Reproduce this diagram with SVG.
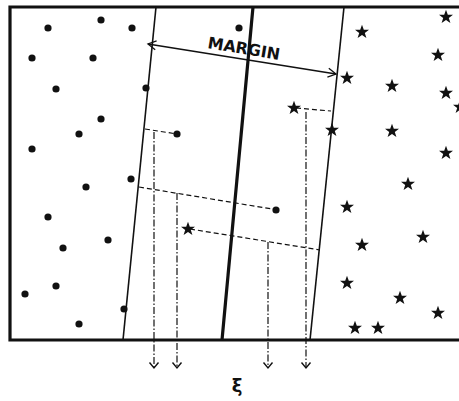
<svg xmlns="http://www.w3.org/2000/svg" xmlns:xlink="http://www.w3.org/1999/xlink" width="459" height="401" viewBox="0 0 459 401">
<defs>
<style>
.frame{fill:none;stroke:#111;stroke-width:3.2}
.margin{stroke:#111;stroke-width:1.6;fill:none}
.hyper{stroke:#111;stroke-width:3.2;fill:none}
.dash{stroke:#111;stroke-width:1.2;stroke-dasharray:5,3;fill:none}
.dashdot{stroke:#111;stroke-width:1.2;stroke-dasharray:7,2,1.5,2;fill:none}
.dot{fill:#111}
.star{fill:#111}
text{font-family:"DejaVu Sans","Liberation Sans",sans-serif;fill:#111}
</style>
<marker id="openv" viewBox="-7 -6 9 12" markerWidth="9" markerHeight="12" refX="0" refY="0" orient="auto" markerUnits="userSpaceOnUse">
<path d="M-5.5,-4.5 L0,0 L-5.5,4.5" fill="none" stroke="#111" stroke-width="1.4"/>
</marker>
<marker id="openv2" viewBox="-10 -6 12 12" markerWidth="12" markerHeight="12" refX="0" refY="0" orient="auto-start-reverse" markerUnits="userSpaceOnUse">
<path d="M-8,-4.5 L0,0 L-8,4.5" fill="none" stroke="#111" stroke-width="1.3"/>
</marker>
<path id="star" d="M0,-7.3 L1.8,-2.3 L7,-2.3 L2.8,0.9 L4.4,6 L0,2.9 L-4.4,6 L-2.8,0.9 L-7,-2.3 L-1.8,-2.3 Z"/>
</defs>
<rect width="459" height="401" fill="#fff"/>
<path class="frame" d="M459,7 L10,7 L10,340 L459,340"/>
<g id="connectors">
<line class="margin" x1="156" y1="7" x2="123" y2="340"/>
<line class="hyper" x1="253" y1="7" x2="222" y2="340"/>
<line class="margin" x1="344" y1="7" x2="310" y2="340"/>
<line class="margin" x1="148" y1="44" x2="336" y2="74" marker-start="url(#openv2)" marker-end="url(#openv2)"/>
<line class="dash" x1="145" y1="129" x2="177" y2="134"/>
<line class="dash" x1="139" y1="187" x2="272" y2="209"/>
<line class="dash" x1="190" y1="229" x2="320" y2="250"/>
<line class="dash" x1="296" y1="108" x2="331" y2="111"/>
<line class="dashdot" x1="154" y1="132" x2="154" y2="368" marker-end="url(#openv)"/>
<line class="dashdot" x1="177" y1="193" x2="177" y2="368" marker-end="url(#openv)"/>
<line class="dashdot" x1="268" y1="242" x2="268" y2="368" marker-end="url(#openv)"/>
<line class="dashdot" x1="306" y1="112" x2="306" y2="368" marker-end="url(#openv)"/>
</g>
<g id="label-margin"><text x="244" y="54" font-size="16" font-weight="bold" text-anchor="middle" transform="rotate(9.5 244 48)">MARGIN</text></g>
<g id="label-xi"><text x="237" y="392" font-size="18" font-weight="bold" text-anchor="middle">ξ</text></g>
<g id="class-dots">
<circle class="dot" cx="48" cy="28" r="3.6"/>
<circle class="dot" cx="101" cy="20" r="3.6"/>
<circle class="dot" cx="132" cy="28" r="3.6"/>
<circle class="dot" cx="32" cy="58" r="3.6"/>
<circle class="dot" cx="93" cy="58" r="3.6"/>
<circle class="dot" cx="56" cy="89" r="3.6"/>
<circle class="dot" cx="146" cy="88" r="3.6"/>
<circle class="dot" cx="101" cy="119" r="3.6"/>
<circle class="dot" cx="79" cy="134" r="3.6"/>
<circle class="dot" cx="32" cy="149" r="3.6"/>
<circle class="dot" cx="177" cy="134" r="3.6"/>
<circle class="dot" cx="86" cy="187" r="3.6"/>
<circle class="dot" cx="131" cy="179" r="3.6"/>
<circle class="dot" cx="239" cy="28" r="3.6"/>
<circle class="dot" cx="48" cy="217" r="3.6"/>
<circle class="dot" cx="63" cy="248" r="3.6"/>
<circle class="dot" cx="108" cy="240" r="3.6"/>
<circle class="dot" cx="56" cy="286" r="3.6"/>
<circle class="dot" cx="25" cy="294" r="3.6"/>
<circle class="dot" cx="124" cy="309" r="3.6"/>
<circle class="dot" cx="79" cy="324" r="3.6"/>
<circle class="dot" cx="276" cy="210" r="3.6"/>
</g>
<g id="class-stars" class="star">
<use xlink:href="#star" href="#star" transform="translate(446,17)"/>
<use xlink:href="#star" href="#star" transform="translate(362,32)"/>
<use xlink:href="#star" href="#star" transform="translate(438,55)"/>
<use xlink:href="#star" href="#star" transform="translate(347,78)"/>
<use xlink:href="#star" href="#star" transform="translate(392,86)"/>
<use xlink:href="#star" href="#star" transform="translate(446,93)"/>
<use xlink:href="#star" href="#star" transform="translate(460,107)"/>
<use xlink:href="#star" href="#star" transform="translate(294,108)"/>
<use xlink:href="#star" href="#star" transform="translate(332,130)"/>
<use xlink:href="#star" href="#star" transform="translate(392,131)"/>
<use xlink:href="#star" href="#star" transform="translate(446,153)"/>
<use xlink:href="#star" href="#star" transform="translate(408,184)"/>
<use xlink:href="#star" href="#star" transform="translate(347,207)"/>
<use xlink:href="#star" href="#star" transform="translate(362,245)"/>
<use xlink:href="#star" href="#star" transform="translate(423,237)"/>
<use xlink:href="#star" href="#star" transform="translate(347,283)"/>
<use xlink:href="#star" href="#star" transform="translate(400,298)"/>
<use xlink:href="#star" href="#star" transform="translate(438,313)"/>
<use xlink:href="#star" href="#star" transform="translate(355,328)"/>
<use xlink:href="#star" href="#star" transform="translate(378,328)"/>
<use xlink:href="#star" href="#star" transform="translate(188,229)"/>
</g>
</svg>
